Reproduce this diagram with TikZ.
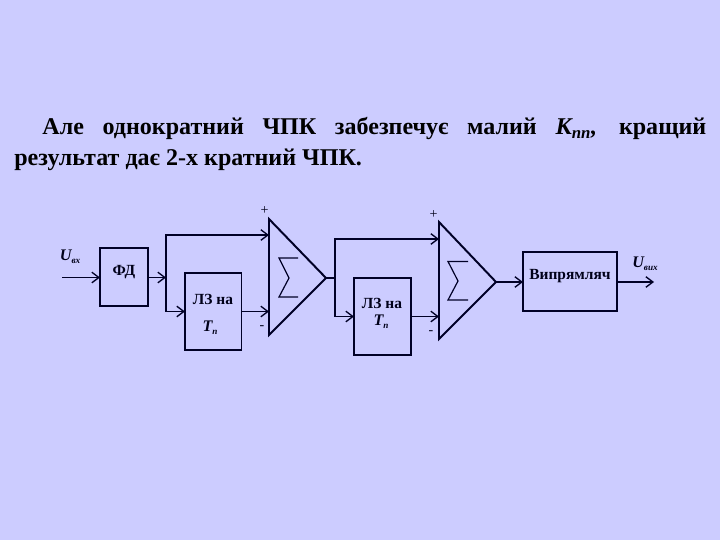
\documentclass[tikz,border=0pt]{standalone}
\usepackage{fontspec}
\setmainfont{Liberation Serif}
\usetikzlibrary{arrows.meta}
\newcommand{\lowsub}[1]{\raisebox{-2pt}{\fontsize{6.5}{7}\selectfont #1}}
\begin{document}
\begin{tikzpicture}[x=.025cm, y=-.025cm, >={Straight Barb[length=5pt,width=7.5pt,line width=.95pt]},
  line/.style={line width=.95pt, draw=black!85!blue},
  thin line/.style={line width=.85pt, draw=black!85!blue},
  block/.style={draw=black!85!blue, line width=1pt, inner sep=0pt, outer sep=0pt},
  lbl/.style={inner sep=0pt, font=\bfseries\fontsize{11}{12}\selectfont, text=black!90!blue},
  sgn/.style={inner sep=0pt, font=\fontsize{10}{11}\selectfont, text=black!90!blue},
  volt/.style={inner sep=0pt, font=\bfseries\itshape\fontsize{11.5}{12}\selectfont, text=black!90!blue}]
\fill[fill={rgb,255:red,204;green,204;blue,255}] (0,0) rectangle (720,540);
\useasboundingbox (0,0) rectangle (720,540);

\node[anchor=north west, inner sep=0pt, text width=692*.025cm, align=justify, font=\bfseries\fontsize{17.1}{22}\selectfont] (txt) at (14,117)
  {\hspace*{20pt}Але однократний ЧПК забезпечує малий \textit{К\textsubscript{пп},} кращий\linebreak результат дає 2-х кратний ЧПК.};

\node[block, minimum width=48*.025cm, minimum height=58*.025cm] (fd) at (124,277) {};
\node[block, minimum width=56.5*.025cm, minimum height=77*.025cm] (lza) at (213.2,311.5) {};
\node[block, minimum width=57*.025cm, minimum height=77*.025cm] (lzb) at (382.5,316.5) {};
\node[block, line width=1.4pt, minimum width=94*.025cm, minimum height=59*.025cm] (rect) at (570,281.5) {};

\node[lbl] (fdt) at (124,272) {ФД};
\node[lbl] (lzat) at (213,299) {ЛЗ на};
\node[lbl] (lzbt) at (382,303) {ЛЗ на};
\node[lbl] (rectt) at (570,276) {Випрямляч};
\node[volt] (tpa) at (210,328) {T\lowsub{п}};
\node[volt] (tpb) at (381,322) {T\lowsub{п}};
\node[volt] (uin) at (70,257) {U\lowsub{вх}};
\node[volt] (uout) at (645,264) {U\lowsub{вих}};
\node[sgn] (pa) at (264.5,211) {+};
\node[sgn] (ma) at (262,328) {-};
\node[sgn] (pb) at (433.5,215) {+};
\node[sgn] (mb) at (431,333) {-};

\coordinate (in) at (62,277.5);
\coordinate (out) at (654,282);
\coordinate (ja) at (166,277.5);
\coordinate (jb) at (335,278);
\coordinate (aa) at (269,219);
\coordinate (ab) at (269,335);
\coordinate (ac) at (326,278);
\coordinate (ba) at (439,222);
\coordinate (bb) at (439,339);
\coordinate (bc) at (496,282);

\draw[line width=1.4pt, draw=black!85!blue, line join=miter] (aa)--(ab)--(ac)--cycle;
\draw[line width=1.4pt, draw=black!85!blue, line join=miter] (ba)--(bb)--(bc)--cycle;
\draw[thin line] (298,258)--(279,258)--(289,278)--(279,297)--(298,297);
\draw[thin line] (468,261.5)--(448,261.5)--(458,281)--(448,300)--(468,300);

\draw[line, ->] (in)--(fd.west|-in);
\draw[line, ->] (fd.east|-ja)--(ja);
\draw[line, ->] (ja)|-(269,235);
\draw[line, ->] (ja)|-(lza.west);
\draw[line, ->] (lza.east)--(269,311.5);
\draw[line] (ac)--(jb);
\draw[line, ->] (jb)|-(439,239);
\draw[line, ->] (jb)|-(lzb.west);
\draw[line, ->] (lzb.east)--(439,316.5);
\draw[line, ->] (bc)--(rect.west|-bc);
\draw[line, ->] (rect.east|-bc)--(out);
\end{tikzpicture}
\end{document}
